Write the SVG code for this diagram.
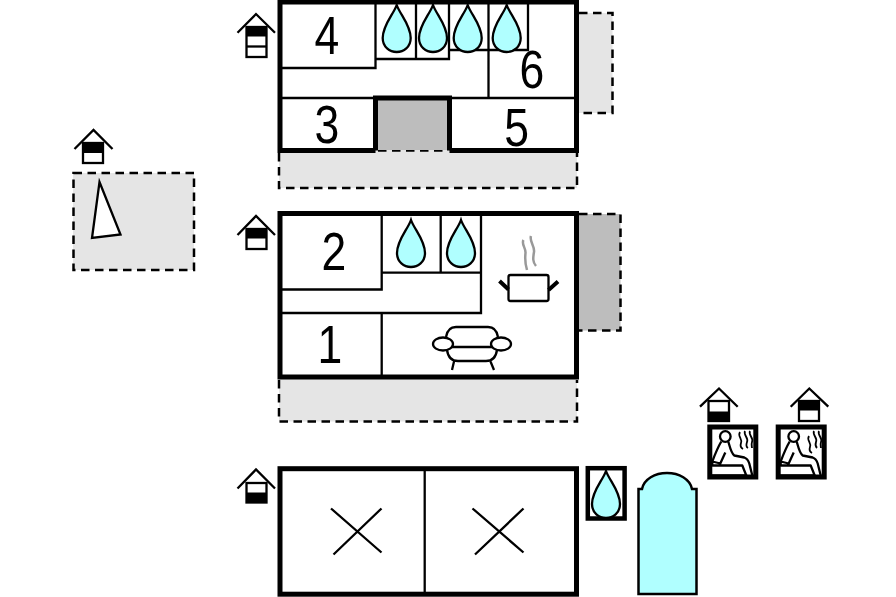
<svg xmlns="http://www.w3.org/2000/svg" width="896" height="597" viewBox="0 0 896 597">
<style>
.wall{fill:none;stroke:#000;stroke-width:5}
.in{fill:none;stroke:#000;stroke-width:2.300}
.yard{fill:#e5e5e5;stroke:none}
.yard2{fill:#bdbdbd;stroke:none}
.dash{fill:none;stroke:#000;stroke-width:2.500;stroke-dasharray:8.500 5.500}
.drop{fill:#b0ffff;stroke:#000;stroke-width:2.300}
.num{font-family:"Liberation Sans",Arial,sans-serif;font-size:53px;fill:#000;text-anchor:middle}
.ic{fill:none;stroke:#000;stroke-width:2.300}
.icb{fill:#000}
</style>
<defs>
<path id="d" class="drop" d="M0 0C-3 9-14 20-14 33C-14 42-7 47 0 47C7 47 14 42 14 33C14 20 3 9 0 0Z"/>
<g id="sauna">
<rect x="2.500" y="2.500" width="46" height="50" fill="#fff" stroke="#000" stroke-width="5"/>
<circle cx="18" cy="12" r="5.300" class="ic"/>
<path class="ic" d="M14 17C11 22 8 29 5 37L13 39L18 28M21 17C23 24 24 29 27 31L37 33C40 34 41 36 42 39L45 51M5 38V41H35L39 51M4 51H40" stroke-linejoin="round"/>
</g>
</defs>

<g id="yard-left"><rect class="yard" x="73" y="173" width="121" height="97"/><rect class="dash" x="73.500" y="173" width="120.500" height="97"/></g>
<g id="north-marker"><polygon points="99.500,182 120.500,234.500 92,238" fill="#fff" stroke="#000" stroke-width="2.300"/></g>

<g id="floor-top">
<path class="yard" d="M279 150H577V188H279Z"/>
<path class="dash" d="M279 153V188H577V153"/>
<path class="dash" d="M378 150.500H448"/>
<rect class="yard" x="578" y="13" width="34.500" height="100"/>
<path class="dash" d="M579 13H612.500V113H579"/>
<rect class="yard2" x="376" y="98" width="73" height="52"/>
<path fill="#fff" d="M280 2H576.500V150.500H449.500V98H375.500V150.500H280Z"/>
<path class="in" d="M280 68H375.500V2M375.500 59H449V2M416 2V59M449 50H528V2M488.500 50V98M280 98H576.500M488.500 2V50"/>
<path class="wall" d="M375.500 150.500V98H449.500V150.500"/>
<path class="wall" d="M375.500 150.500H280V2H576.500V150.500H449.500"/>
<use href="#d" x="396.700" y="5"/><use href="#d" x="433" y="5"/><use href="#d" x="467.700" y="5"/><use href="#d" x="506.700" y="5"/>
<text class="num" transform="translate(327 54) scale(.84 1)">4</text>
<text class="num" transform="translate(327 142.500) scale(.84 1)">3</text>
<text class="num" transform="translate(516.700 146) scale(.84 1)">5</text>
<text class="num" transform="translate(532 88) scale(.84 1)">6</text>
</g>

<g id="floor-middle">
<path class="yard" d="M279 377H577V421.500H279Z"/>
<path class="dash" d="M279 380V421.500H577V380"/>
<rect class="yard2" x="578" y="214" width="42.500" height="116.500"/>
<path class="dash" d="M579 214H620.500V330.500H579"/>
<rect x="280" y="213.500" width="296.500" height="163.500" fill="#fff"/>
<path class="in" d="M280 289.500H381.700V213.500M381.700 272.700H481M440.700 213.500V272.700M481 213.500V313H280M381.700 313V377"/>
<rect class="wall" x="280" y="213.500" width="296.500" height="163.500"/>
<use href="#d" x="411" y="220"/><use href="#d" x="461" y="220"/>
<text class="num" transform="translate(334 270) scale(.84 1)">2</text>
<text class="num" transform="translate(330 363) scale(.84 1)">1</text>
<g id="pot">
<rect x="508.500" y="275" width="40" height="26" rx="2" fill="#fff" stroke="#000" stroke-width="2.300"/>
<path d="M499.500 281L508.500 289.500M558 281.500L548.500 290" fill="none" stroke="#000" stroke-width="4"/>
<path d="M523.500 240C521 244 526 248 525.500 253C525 258 524.500 262 527 270M531 236C529 241 535 246 534 252C533 258 532.500 262 536 266" fill="none" stroke="#999" stroke-width="2.500"/>
</g>
<g id="sofa">
<path class="ic" d="M446 337C447 331 450 327 456 327H488C494 327 497 331 498 337M451 347H493M447 350C448 357 452 361 458 361H486C492 361 496 357 497 350M454 361.500L452 370M490.500 361.500L494 370"/>
<ellipse cx="443" cy="344" rx="10" ry="6.500" class="ic"/>
<ellipse cx="501" cy="344" rx="10" ry="6.500" class="ic"/>
</g>
</g>

<g id="floor-bottom">
<rect class="wall" x="280" y="468.700" width="296.500" height="125.500" fill="#fff"/>
<path class="in" d="M424.700 468.700V594"/>
<path class="in" d="M331 508.500L381.500 552.500M333.500 554.500L381.500 508.500M472.500 508.500L523.500 552.500M475 554.500L523.500 508.500"/>
</g>

<g id="wash"><rect x="587.800" y="468.200" width="36.800" height="50.300" fill="#fff" stroke="#000" stroke-width="4.500"/><use href="#d" x="606" y="471"/></g>
<g id="pool"><path d="M638.500 594V489H642C644 479 655 473 667 473C679 473 690 479 692 489H696.500V594Z" fill="#b0ffff" stroke="#000" stroke-width="2.500"/></g>

<g id="sauna-1"><use href="#sauna" x="707.300" y="424.500"/></g>
<g id="sauna-2"><use href="#sauna" x="775.700" y="424.500"/></g>

<g id="icon-top"><path class="ic" d="M237.500 32.700L256 14L275 32.700"/><rect class="icb" x="246" y="27" width="20.500" height="9.500"/><rect class="ic" x="246.500" y="27" width="20" height="30"/><path class="ic" d="M246.500 46.500H266.500"/></g>
<g id="icon-middle"><path class="ic" d="M237.500 235L256 216L275 235"/><rect class="icb" x="246" y="229" width="20.500" height="9.500"/><rect class="ic" x="246.500" y="229" width="20" height="20"/></g>
<g id="icon-bottom"><path class="ic" d="M237.500 488.500L256 469.500L275 488.500"/><rect class="icb" x="246" y="492.500" width="20.500" height="10"/><rect class="ic" x="246.500" y="483" width="20" height="19.500"/></g>
<g id="icon-left"><path class="ic" d="M74.500 149L93.500 130L112.500 149"/><rect class="icb" x="83" y="143" width="20.500" height="10"/><rect class="ic" x="83" y="143" width="20" height="20"/></g>
<g id="icon-sauna-1"><path class="ic" d="M700 406.700L719 388.500L737.700 406.700"/><rect class="icb" x="708" y="411.500" width="21.500" height="10"/><rect class="ic" x="708.500" y="401" width="20.500" height="20"/></g>
<g id="icon-sauna-2"><path class="ic" d="M790.700 406.700L809.300 388.500L828.300 406.700"/><rect class="icb" x="798.500" y="401" width="21" height="9.500"/><rect class="ic" x="799" y="401" width="20" height="20"/></g>

<g id="steam-1" fill="none" stroke="#000" stroke-width="1.800"><path d="M740 432C737 436 743 439 741 443C740 446 741 448 743 449M745 431C743 435 749 438 747 442C746 445 746 447 748 448M750 431C748 435 754 438 752 442C751 445 752 447 752 448"/></g>
<g id="steam-2" fill="none" stroke="#000" stroke-width="1.800"><path d="M809 436C806 440 812 443 810 447C809 450 810 452 812 453M814 431C812 435 818 438 816 442C815 445 816 447 817 448M819 431C817 435 823 438 821 442C820 445 821 447 821 448"/></g>
</svg>
